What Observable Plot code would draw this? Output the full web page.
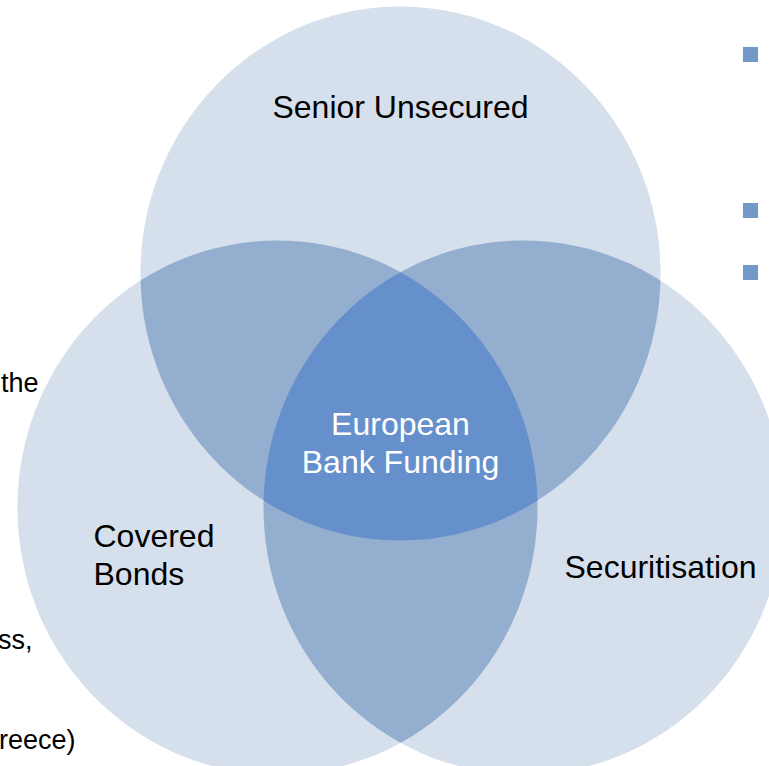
<!DOCTYPE html>
<html>
<head>
<meta charset="utf-8">
<script src="https://cdn.jsdelivr.net/npm/d3@7"></script>
<script src="https://cdn.jsdelivr.net/npm/@observablehq/plot@0.6"></script>
<style>
html, body { margin: 0; padding: 0; background: #ffffff; }
#chart svg { display: block; }
</style>
</head>
<body>
<div id="chart"></div>
<script>
// ---- Data ----
const setNames = ["Senior Unsecured", "Covered Bonds", "Securitisation"];
const setCenterX = [400, 277, 523];
const setCenterY = [273, 507, 507];
const setRadius = 260;          // horizontal radius
const setAspect = 267 / 260;    // vertical / horizontal

const pairs = [[0, 1], [0, 2], [1, 2]];

const labelText = ["Senior Unsecured", "European\nBank Funding", "Covered\nBonds", "Securitisation"];
const labelX = [400, 400, 93, 564];
const labelY = [117, 472, 584, 577];

const sideText = ["the", "ss,", "reece)"];
const sideX = [38, 32, 75];
const sideY = [391, 648, 748];

const bulletX = [750, 750, 750];
const bulletY = [54, 210, 272];

// ---- Styles ----
const lightFill = "#d6e0ec";
const midFill = "#94aecf";
const darkFill = "#6690cb";
const bulletFill = "#7399c6";
const font = "'Liberation Sans', Arial, Helvetica, sans-serif";
const fontSize = 32;
const sideFontSize = 27;

const ellipseSymbol = {
  draw(context, size) {
    const rx = Math.sqrt(size / Math.PI);
    const ry = rx * setAspect;
    const k = 0.5522847498;
    context.moveTo(rx, 0);
    context.bezierCurveTo(rx, k * ry, k * rx, ry, 0, ry);
    context.bezierCurveTo(-k * rx, ry, -rx, k * ry, -rx, 0);
    context.bezierCurveTo(-rx, -k * ry, -k * rx, -ry, 0, -ry);
    context.bezierCurveTo(k * rx, -ry, rx, -k * ry, rx, 0);
    context.closePath();
  }
};

const idx = setNames.map((_, i) => i);
const setDot = (data, fill) => Plot.dot(data, {
  x: i => setCenterX[i],
  y: i => setCenterY[i],
  r: setRadius,
  symbol: ellipseSymbol,
  fill,
  stroke: null
});

const labels = labelText.map((t, i) => ({text: t, x: labelX[i], y: labelY[i]}));
const sides = sideText.map((t, i) => ({text: t, x: sideX[i], y: sideY[i]}));
const bullets = bulletX.map((x, i) => ({x, y: bulletY[i]}));

const textOpts = {x: "x", y: "y", text: "text", fontSize, lineAnchor: "bottom", lineHeight: 37.5 / fontSize};

const plot = Plot.plot({
  width: 769,
  height: 766,
  margin: 0,
  x: {domain: [0, 769], axis: null},
  y: {domain: [766, 0], axis: null},
  style: {fontFamily: font, background: "#ffffff"},
  marks: [
    setDot(idx, lightFill),
    ...pairs.map(([a]) => setDot([a], midFill)),
    setDot([0], darkFill),
    Plot.text(labels.filter((d, i) => i === 0), {...textOpts, textAnchor: "middle", fill: "#000000"}),
    Plot.text(labels.filter((d, i) => i === 1), {...textOpts, textAnchor: "middle", fill: "#ffffff"}),
    Plot.text(labels.filter((d, i) => i >= 2), {...textOpts, textAnchor: "start", fill: "#000000"}),
    Plot.text(sides, {...textOpts, fontSize: sideFontSize, textAnchor: "end", fill: "#000000"}),
    Plot.dot(bullets, {x: "x", y: "y", r: 8.5, symbol: "square", fill: bulletFill, stroke: null})
  ]
});

// ---- Clip overlap regions to the intersections ----
const ns = "http://www.w3.org/2000/svg";
const groups = Array.from(plot.children).filter(el => el.tagName.toLowerCase() === "g");
const setsG = groups[0];
const pairGroups = groups.slice(1, 1 + pairs.length);
const tripleG = groups[1 + pairs.length];
const setPaths = setsG.querySelectorAll("path");
const defs = document.createElementNS(ns, "defs");
plot.insertBefore(defs, plot.firstChild);
setPaths.forEach((p, i) => {
  const cp = document.createElementNS(ns, "clipPath");
  cp.setAttribute("id", `venn-set-${i}`);
  const clone = document.createElementNS(ns, "path");
  clone.setAttribute("d", p.getAttribute("d"));
  const t = [setsG.getAttribute("transform"), p.getAttribute("transform")].filter(Boolean).join(" ");
  if (t) clone.setAttribute("transform", t);
  cp.appendChild(clone);
  defs.appendChild(cp);
});
function clipWith(el, i) {
  const w = document.createElementNS(ns, "g");
  el.parentNode.insertBefore(w, el);
  w.appendChild(el);
  w.setAttribute("clip-path", `url(#venn-set-${i})`);
  return w;
}
pairs.forEach(([a, b], k) => clipWith(pairGroups[k], b));
clipWith(clipWith(tripleG, 1), 2);

document.getElementById("chart").appendChild(plot);
</script>
</body>
</html>
